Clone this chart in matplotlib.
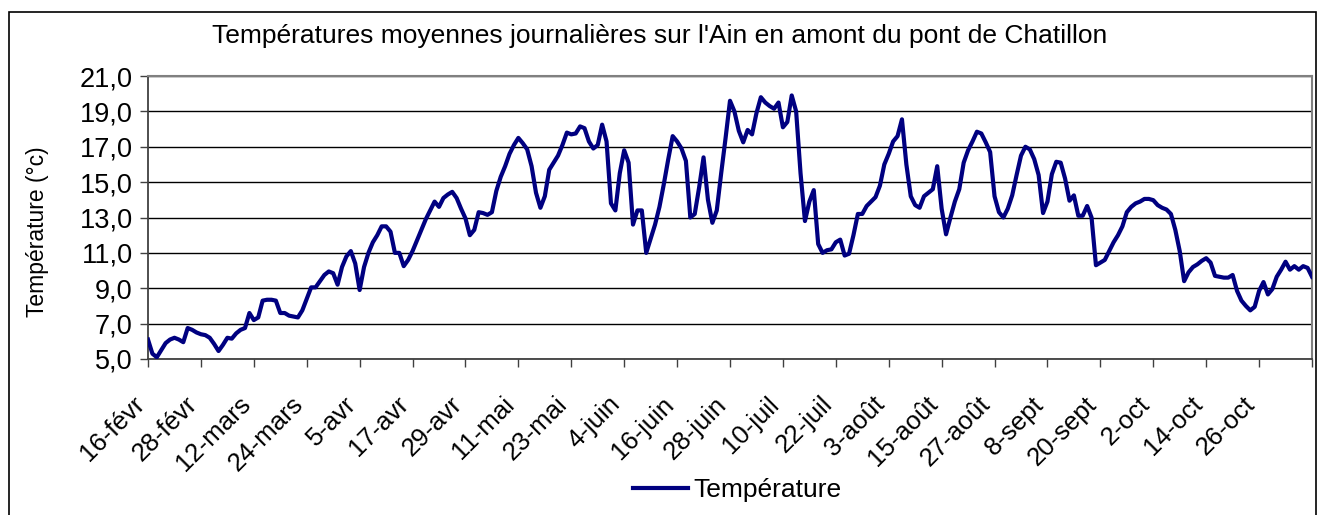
import numpy as np
import pandas as pd
import matplotlib
matplotlib.use("Agg")
from matplotlib import pyplot as plt
from matplotlib.patches import Rectangle
from matplotlib.ticker import FuncFormatter
from matplotlib.transforms import ScaledTranslation

# Températures moyennes journalières (°C), du 16 février au 7 novembre
fevrier = [6.1, 5.3, 5.1, 5.5, 5.9, 6.1, 6.2, 6.1, 5.95, 6.75, 6.65, 6.5, 6.4]
mars = [6.35, 6.2, 5.85, 5.45, 5.8, 6.2, 6.15, 6.45, 6.65, 6.75, 7.6, 7.2, 7.35, 8.3, 8.35, 8.35,
        8.3, 7.6, 7.6, 7.45, 7.4, 7.35, 7.75, 8.4, 9.05, 9.05, 9.4, 9.75, 9.95, 9.85, 9.2]
avril = [10.2, 10.8, 11.1, 10.4, 8.9, 10.2, 11.0, 11.6, 12.0, 12.5, 12.5, 12.2, 11.0, 11.0, 10.25,
         10.6, 11.1, 11.7, 12.3, 12.9, 13.4, 13.9, 13.6, 14.1, 14.3, 14.45, 14.1, 13.5, 12.95, 12.0]
mai = [12.3, 13.3, 13.25, 13.15, 13.3, 14.5, 15.3, 15.9, 16.6, 17.1, 17.5, 17.2, 16.85, 15.9, 14.4,
       13.55, 14.2, 15.7, 16.1, 16.5, 17.1, 17.8, 17.7, 17.75, 18.15, 18.05, 17.3, 16.9, 17.1, 18.25, 17.3]
juin = [13.8, 13.4, 15.5, 16.8, 16.1, 12.6, 13.4, 13.4, 11.0, 11.8, 12.6, 13.6, 14.9, 16.3, 17.6,
        17.3, 16.9, 16.2, 13.0, 13.2, 14.7, 16.4, 14.0, 12.7, 13.4, 15.5, 17.5, 19.6, 19.0, 17.9]
juillet = [17.25, 17.95, 17.7, 18.9, 19.8, 19.5, 19.3, 19.15, 19.5, 18.1, 18.4, 19.9, 19.0, 15.5, 12.8,
           13.9, 14.55, 11.5, 11.0, 11.15, 11.2, 11.6, 11.75, 10.85, 10.95, 12.0, 13.2, 13.2, 13.65, 13.9, 14.15]
aout = [14.8, 16.0, 16.6, 17.3, 17.6, 18.55, 16.0, 14.2, 13.7, 13.55, 14.2, 14.4, 14.6, 15.9, 13.5,
        12.05, 13.0, 13.9, 14.6, 16.1, 16.8, 17.3, 17.85, 17.75, 17.25, 16.7, 14.2, 13.3, 13.0, 13.5, 14.25]
septembre = [15.4, 16.5, 17.0, 16.85, 16.3, 15.4, 13.25, 13.9, 15.45, 16.15, 16.1, 15.2, 13.95, 14.25, 13.1,
             13.1, 13.65, 13.0, 10.3, 10.45, 10.6, 11.1, 11.6, 12.0, 12.5, 13.3, 13.6, 13.8, 13.9, 14.05]
octobre = [14.05, 13.98, 13.7, 13.55, 13.45, 13.2, 12.3, 11.1, 9.4, 9.9, 10.2, 10.35, 10.55, 10.7, 10.45,
           9.7, 9.65, 9.6, 9.6, 9.75, 8.85, 8.3, 8.0, 7.75, 7.95, 8.85, 9.35, 8.65, 8.95, 9.65, 10.05]
novembre = [10.5, 10.05, 10.25, 10.05, 10.25, 10.15, 9.65]

debut = "2007-02-16"
mois = {2: "févr", 3: "mars", 4: "avr", 5: "mai", 6: "juin", 7: "juil",
        8: "août", 9: "sept", 10: "oct", 11: "nov"}

temperature = fevrier + mars + avril + mai + juin + juillet + aout + septembre + octobre + novembre
dates = pd.date_range(debut, periods=len(temperature), freq="D")
jours = np.arange(len(temperature))

plt.rcParams["font.family"] = ["Liberation Sans", "DejaVu Sans"]

fig = plt.figure(figsize=(13.19, 5.15), dpi=100)
ax = fig.add_axes([148 / 1319, 1 - 359 / 515, 1164 / 1319, 283 / 515])

# cadre du graphique
fig.patches.append(Rectangle((9 / 1319, -0.01), 1307 / 1319, 1 - 12 / 515 + 0.01,
                             transform=fig.transFigure, fill=False, edgecolor="black", lw=1.2))

ax.plot(jours, temperature, color="#000080", lw=3.0, label="Température",
        solid_joinstyle="round", zorder=3)

ax.set_ylim(5, 21)
ax.set_yticks(np.arange(5, 22, 2))
ax.yaxis.set_major_formatter(FuncFormatter(lambda v, p: f"{v:.1f}".replace(".", ",")))
ax.set_xlim(0, len(temperature) - 1)

# graduations tous les 12 jours, étiquettes inclinées à 45°
pas = 12
positions = list(range(0, len(temperature), pas))
ax.set_xticks(positions)
ax.set_xticklabels([])
decalage = ax.get_xaxis_transform() + ScaledTranslation(-16 / 100, -33 / 100, fig.dpi_scale_trans)
for i in positions[:-1]:
    ax.text(i, 0, f"{dates[i].day}-{mois[dates[i].month]}", transform=decalage,
            rotation=45, ha="right", va="top", rotation_mode="anchor", fontsize=18.5)

ax.grid(axis="y", color="black", lw=1.0)
ax.set_axisbelow(True)
for cote in ["top", "right"]:
    ax.spines[cote].set_color("#808080")
    ax.spines[cote].set_linewidth(1.5)
for cote in ["left", "bottom"]:
    ax.spines[cote].set_color("#404040")
    ax.spines[cote].set_linewidth(1.3)

ax.tick_params(axis="both", direction="out", length=6, width=1, color="#404040")
ax.tick_params(axis="y", pad=5, labelsize=19.5)

ax.set_ylabel("Température (°c)", fontsize=16.5)
ax.yaxis.set_label_coords(-0.085, 0.45)
fig.text(0.5, 1 - 36 / 515, "Températures moyennes journalières sur l'Ain en amont du pont de Chatillon",
         ha="center", va="center", fontsize=19)

fig.legend(loc="center", bbox_to_anchor=(737 / 1319, 1 - 490 / 515), frameon=False,
           fontsize=19, handlelength=2.1, handletextpad=0.2)

fig.savefig("out.png", dpi=100)
